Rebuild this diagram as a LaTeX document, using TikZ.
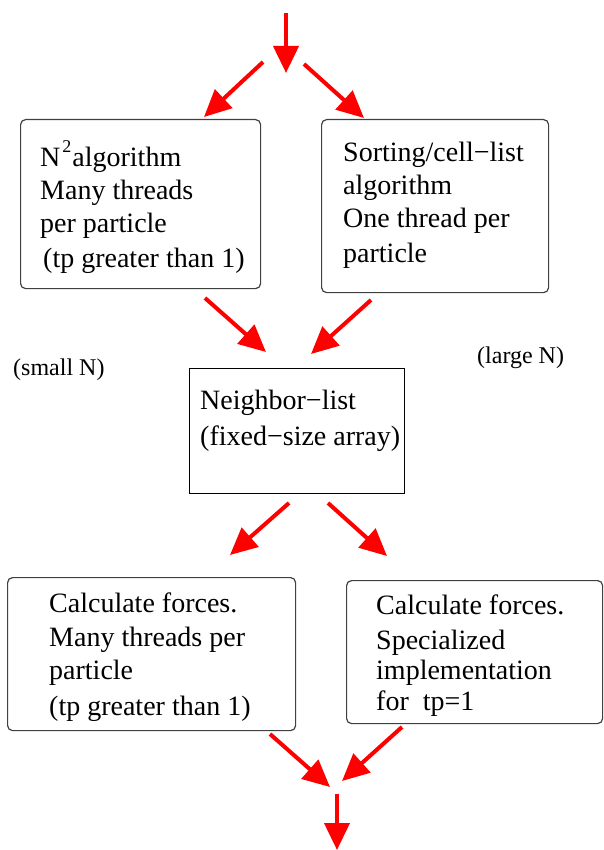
\documentclass[tikz,border=0pt]{standalone}
\usepackage{fontspec}
\setmainfont{Liberation Serif}
\usetikzlibrary{arrows.meta}
\begin{document}
\begin{tikzpicture}[x=1pt,y=-1pt,
  box/.style={draw=black!75, line width=1.2pt, rounded corners=5pt, inner sep=0pt, anchor=north west},
  sqbox/.style={draw=black, line width=1.2pt, inner sep=0pt, anchor=north west},
  txt/.style={anchor=base west, inner sep=0pt, font=\fontsize{28}{33}\selectfont},
  smalltxt/.style={anchor=base west, inner sep=0pt, font=\fontsize{24}{28}\selectfont},
  arr/.style={draw=red, line width=4pt, -{Triangle[length=27pt,width=25pt]}}]
\useasboundingbox (0,0) rectangle (603,850);

% boxes
\node[box, minimum width=240pt, minimum height=169pt] (b1) at (20,119) {};
\node[box, minimum width=227pt, minimum height=173pt] (b2) at (321,119) {};
\node[sqbox, minimum width=215pt, minimum height=125pt] (nb) at (189,368) {};
\node[box, minimum width=288pt, minimum height=153pt] (b3) at (7,577) {};
\node[box, minimum width=256pt, minimum height=143pt] (b4) at (346,580) {};

% box 1 text
\node[txt] (b1l1) at (40,167) {N\kern2pt\raisebox{14pt}{\fontsize{18}{18}\selectfont 2}\kern1pt algorithm};
\node[txt] (b1l2) at (40,200) {Many threads};
\node[txt] (b1l3) at (40,233) {per particle};
\node[txt] (b1l4) at (43,267) {(tp greater than 1)};

% box 2 text
\node[txt] (b2l1) at (343,162) {Sorting/cell−list};
\node[txt] (b2l2) at (343,195) {algorithm};
\node[txt] (b2l3) at (343,228) {One thread per};
\node[txt] (b2l4) at (343,262) {particle};

% neighbor box text
\node[txt] (nbl1) at (200,409) {Neighbor−list};
\node[txt] (nbl2) at (200,445) {(fixed−size array)};

% side labels
\node[smalltxt] (smallN) at (13,375) {(small N)};
\node[smalltxt] (largeN) at (477,363) {(large N)};

% box 3 text
\node[txt] (b3l1) at (49,612) {Calculate forces.};
\node[txt] (b3l2) at (49,646) {Many threads per};
\node[txt] (b3l3) at (49,679) {particle};
\node[txt] (b3l4) at (49,715) {(tp greater than 1)};

% box 4 text
\node[txt] (b4l1) at (376,614) {Calculate forces.};
\node[txt] (b4l2) at (376,649) {Specialized};
\node[txt] (b4l3) at (376,679) {implementation};
\node[txt] (b4l4) at (376,710) {for\ \ tp=1};

% arrow end points
\coordinate (a0s) at (286,13);  \coordinate (a0e) at (286,73);
\coordinate (a1s) at (263,62);  \coordinate (a1e) at (204,117);
\coordinate (a2s) at (304,64);  \coordinate (a2e) at (364,118);
\coordinate (a3s) at (205,298); \coordinate (a3e) at (266,352);
\coordinate (a4s) at (371,300); \coordinate (a4e) at (311,354);
\coordinate (a5s) at (289,503); \coordinate (a5e) at (230,555);
\coordinate (a6s) at (328,503); \coordinate (a6e) at (387,556);
\coordinate (a7s) at (270,734); \coordinate (a7e) at (330,787);
\coordinate (a8s) at (402,727); \coordinate (a8e) at (342,781);
\coordinate (a9s) at (337,794); \coordinate (a9e) at (337,850);

\foreach \i in {0,...,9} \draw[arr] (a\i s) -- (a\i e);
\end{tikzpicture}
\end{document}
